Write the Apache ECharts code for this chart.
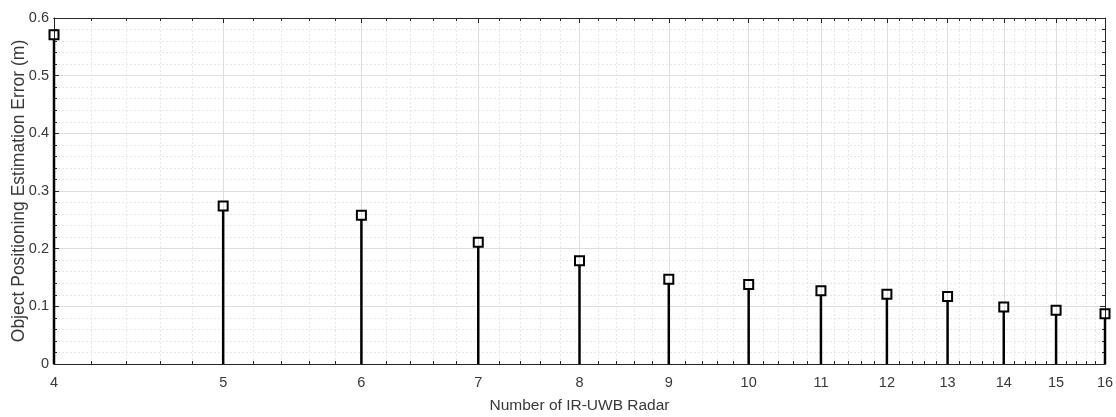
<!DOCTYPE html>
<html>
<head>
<meta charset="utf-8">
<script src="https://cdn.jsdelivr.net/npm/echarts@6/dist/echarts.min.js"></script>
<style>html,body{margin:0;padding:0;background:#fff;}#c{width:1116px;height:417px;}</style>
</head>
<body>
<div id="c"></div>
<script>
const radarCounts = [4, 5, 6, 7, 8, 9, 10, 11, 12, 13, 14, 15, 16];
const errorValues = [0.571, 0.274, 0.258, 0.211, 0.179, 0.147, 0.138, 0.127, 0.121, 0.117, 0.099, 0.093, 0.087];
const xTickLabels = [4, 5, 6, 7, 8, 9, 10, 11, 12, 13, 14, 15, 16];
const xMinorSteps = [0.2, 0.4, 0.6, 0.8];
const yTicks = [0, 0.1, 0.2, 0.3, 0.4, 0.5, 0.6];

const xMinorTicks = [];
xTickLabels.slice(0, -1).forEach(k => xMinorSteps.forEach(s => xMinorTicks.push(+(k + s).toFixed(1))));

const axisColor = '#262626';
const labelColor = '#383838';
const font = 'Liberation Sans, Arial, sans-serif';

function xAxisCfg(pos, ticks, len, labels, split, splitStyle) {
  return {
    type: 'log', logBase: 2, min: 4, max: 16, position: pos,
    axisLine: { show: true, onZero: false, lineStyle: { color: axisColor, width: 1 } },
    axisTick: { show: true, inside: true, length: len, customValues: ticks, lineStyle: { color: axisColor, width: 1 } },
    axisLabel: labels ? { show: true, customValues: ticks, color: labelColor, fontSize: 14.5, fontFamily: font, margin: 11 } : { show: false },
    splitLine: { show: split, lineStyle: splitStyle },
    minorTick: { show: false }, minorSplitLine: { show: false }
  };
}

const majorGrid = { color: '#dedede', width: 1, type: 'solid' };
const minorGrid = { color: '#e6e6e6', width: 1, type: [2, 2] };

const xAxes = [
  Object.assign(xAxisCfg('bottom', xTickLabels, 5, true, true, majorGrid), {
    name: 'Number of IR-UWB Radar', nameLocation: 'middle', nameGap: 34, nameMoveOverlap: false,
    nameTextStyle: { color: labelColor, fontSize: 15.5, fontFamily: font }
  }),
  xAxisCfg('bottom', xMinorTicks, 3, false, true, minorGrid),
  xAxisCfg('top', xTickLabels, 5, false, false, majorGrid),
  xAxisCfg('top', xMinorTicks, 3, false, false, majorGrid)
];

function yAxisCfg(pos, labels, split) {
  return {
    type: 'value', min: 0, max: 0.6, interval: 0.1, position: pos,
    axisLine: { show: true, onZero: false, lineStyle: { color: axisColor, width: 1 } },
    axisTick: { show: true, inside: true, length: 5, lineStyle: { color: axisColor } },
    minorTick: { show: true, splitNumber: 5, length: 3, lineStyle: { color: axisColor } },
    axisLabel: labels ? { show: true, color: labelColor, fontSize: 14.5, fontFamily: font, margin: 5,
      formatter: v => { const t = yTicks.find(q => Math.abs(q - v) < 1e-9); return t === undefined ? '' : String(t); } } : { show: false },
    splitLine: { show: split, lineStyle: majorGrid },
    minorSplitLine: { show: split, lineStyle: minorGrid }
  };
}

const yAxes = [
  Object.assign(yAxisCfg('left', true, true), {
    name: 'Object Positioning Estimation Error (m)', nameLocation: 'middle', nameGap: 26, nameRotate: 90, nameMoveOverlap: false,
    nameTextStyle: { color: labelColor, fontSize: 17.5, fontFamily: font }
  }),
  yAxisCfg('right', false, false)
];

const chart = echarts.init(document.getElementById('c'), null, { renderer: 'canvas' });
chart.setOption({
  animation: false,
  backgroundColor: '#ffffff',
  grid: { left: 54, right: 11, top: 18, bottom: 53, outerBoundsMode: 'none', containLabel: false },
  xAxis: xAxes,
  yAxis: yAxes,
  series: [{
    type: 'custom',
    xAxisIndex: 0, yAxisIndex: 0,
    clip: false,
    data: radarCounts.map((n, i) => [n, errorValues[i]]),
    renderItem: function (params, api) {
      const x = api.value(0), y = api.value(1);
      const p0 = api.coord([x, 0]);
      const p1 = api.coord([x, y]);
      const s = 9;
      return {
        type: 'group',
        children: [
          { type: 'line', shape: { x1: p0[0], y1: p0[1], x2: p1[0], y2: p1[1] + s / 2 }, style: { stroke: '#000', lineWidth: 2.5 } },
          { type: 'rect', shape: { x: p1[0] - s / 2, y: p1[1] - s / 2, width: s, height: s }, style: { fill: 'none', stroke: '#000', lineWidth: 2 } }
        ]
      };
    }
  }]
});
</script>
</body>
</html>
